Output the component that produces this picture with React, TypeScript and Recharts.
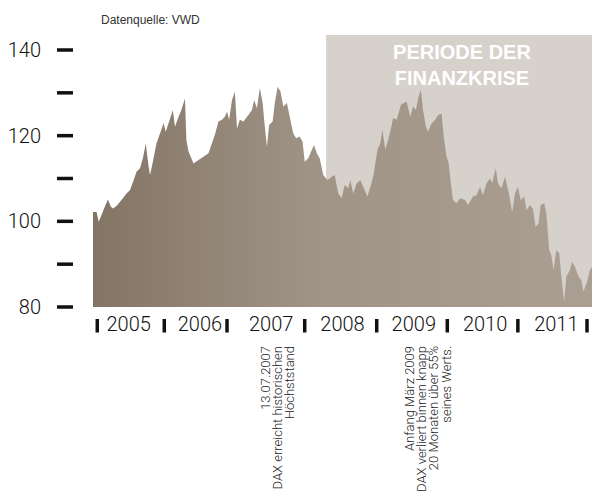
import React from "react";
import { AreaChart, Area, XAxis, YAxis, ReferenceArea } from "recharts";

// decimal-year dates and index values
const dates = [
  2005.0, 2005.05, 2005.08, 2005.12, 2005.17, 2005.21, 2005.25, 2005.28, 2005.33, 2005.4,
  2005.47, 2005.52, 2005.57, 2005.61, 2005.66, 2005.7, 2005.74, 2005.78, 2005.8, 2005.84,
  2005.89, 2005.94, 2005.99, 2006.02, 2006.06, 2006.12, 2006.15, 2006.2, 2006.24, 2006.29,
  2006.31, 2006.34, 2006.41, 2006.48, 2006.55, 2006.62, 2006.66, 2006.71, 2006.76, 2006.81,
  2006.85, 2006.88, 2006.91, 2006.95, 2006.99, 2007.02, 2007.06, 2007.11, 2007.18, 2007.23,
  2007.26, 2007.3, 2007.34, 2007.38, 2007.41, 2007.44, 2007.47, 2007.52, 2007.55, 2007.59,
  2007.63, 2007.67, 2007.72, 2007.76, 2007.81, 2007.85, 2007.9, 2007.94, 2007.97, 2008.02,
  2008.07, 2008.1, 2008.14, 2008.18, 2008.23, 2008.29, 2008.35, 2008.39, 2008.44, 2008.49,
  2008.53, 2008.58, 2008.61, 2008.65, 2008.7, 2008.75, 2008.79, 2008.85, 2008.9, 2008.94,
  2008.99, 2009.03, 2009.06, 2009.1, 2009.14, 2009.18, 2009.21, 2009.26, 2009.32, 2009.36,
  2009.4, 2009.45, 2009.49, 2009.53, 2009.56, 2009.6, 2009.63, 2009.67, 2009.7, 2009.75,
  2009.8, 2009.84, 2009.89, 2009.92, 2009.96, 2009.99, 2010.02, 2010.05, 2010.1, 2010.15,
  2010.22, 2010.26, 2010.33, 2010.38, 2010.43, 2010.47, 2010.52, 2010.57, 2010.6, 2010.65,
  2010.68, 2010.73, 2010.78, 2010.83, 2010.88, 2010.92, 2010.96, 2011.0, 2011.05, 2011.08,
  2011.13, 2011.17, 2011.21, 2011.25, 2011.28, 2011.33, 2011.36, 2011.4, 2011.43, 2011.46,
  2011.5, 2011.54, 2011.57, 2011.61, 2011.64, 2011.69, 2011.72, 2011.76, 2011.81, 2011.85,
  2011.88, 2011.93, 2011.97, 2012.0,
];
const values = [
  102.2, 102.2, 99.9, 101.5, 103.6, 105.1, 103.4, 103.0, 103.6, 105.0,
  106.5, 107.3, 109.6, 111.6, 112.4, 114.7, 118.2, 112.8, 110.8, 113.9,
  118.2, 120.5, 122.9, 120.9, 122.9, 126.0, 122.1, 124.4, 126.0, 128.7,
  119.0, 116.3, 113.5, 114.3, 115.1, 115.9, 117.8, 120.2, 123.3, 123.7,
  124.4, 125.6, 123.7, 128.3, 130.3, 121.7, 123.7, 123.3, 124.8, 126.0,
  128.3, 126.4, 131.1, 127.6, 122.1, 117.4, 122.5, 123.3, 127.6, 131.4,
  130.3, 126.8, 127.6, 124.4, 120.5, 119.4, 119.8, 118.6, 113.9, 114.7,
  116.7, 117.8, 115.9, 114.7, 110.8, 109.6, 110.4, 110.8, 106.5, 105.4,
  108.5, 107.7, 109.6, 106.5, 108.9, 109.6, 108.1, 105.8, 108.5, 111.2,
  116.7, 118.2, 121.3, 116.7, 119.0, 121.7, 124.1, 123.7, 127.2, 127.6,
  127.9, 124.4, 126.8, 126.0, 128.7, 130.7, 126.0, 122.1, 120.9, 122.9,
  123.7, 124.8, 125.2, 119.8, 115.1, 113.5, 108.9, 105.0, 104.2, 105.4,
  105.0, 103.8, 105.8, 106.1, 108.1, 106.1, 108.9, 110.0, 108.9, 112.4,
  108.9, 107.7, 110.4, 106.9, 102.2, 106.5, 108.1, 105.0, 105.8, 102.6,
  103.8, 103.0, 98.7, 99.5, 103.8, 104.2, 101.9, 93.3, 92.1, 88.6,
  93.3, 92.5, 87.1, 81.2, 87.1, 88.6, 90.6, 89.4, 87.1, 86.3,
  83.6, 85.9, 88.6, 89.4,
];

const yTicks = [80, 90, 100, 110, 120, 130, 140];
const yLabelled = [80, 100, 120, 140];
const yearLabels = ["2005", "2006", "2007", "2008", "2009", "2010", "2011"];
const yearLabelPos = [2005.5, 2006.5, 2007.5, 2008.5, 2009.5, 2010.5, 2011.5];
const yearBarPos = [2005.06, 2006.0, 2006.88, 2007.97, 2008.98, 2009.97, 2010.96, 2011.93];
const crisisStart = 2008.27;
const crisisEnd = 2012;
const crisisTop = 143.5;

const sourceText = "Datenquelle: VWD";
const crisisLines = ["PERIODE DER", "FINANZKRISE"];
const note1 = ["13.07.2007", "DAX erreicht historischen", "Höchststand"];
const note2 = ["Anfang März 2009", "DAX verliert binnen knapp", "20 Monaten über 55%", "seines Werts."];

const data = dates.map((t, i) => ({ t, v: values[i] }));

const LIGHT = "Roboto, 'Liberation Sans', Arial, sans-serif";
const SANS = "'Liberation Sans', Arial, Helvetica, sans-serif";

const YTick = (props: any) => {
  const { x, y, payload } = props;
  const v = payload.value;
  return (
    <g>
      <line x1={x - 36} x2={x - 20} y1={y} y2={y} stroke="#111" strokeWidth={3.5} />
      {yLabelled.includes(v) && (
        <text x={x - 52} y={y + 7} textAnchor="end" fontSize={20} fontFamily={LIGHT} fontWeight={300} fill="#111">
          {v}
        </text>
      )}
    </g>
  );
};

const LabelTick = (props: any) => {
  const { x, y, payload, index } = props;
  const li = yearLabelPos.findIndex((p) => Math.abs(p - payload.value) < 1e-6);
  return (
    <text x={x} y={y + 24} textAnchor="middle" fontSize={20} fontFamily={LIGHT} fontWeight={300} fill="#111">
      {yearLabels[li >= 0 ? li : index]}
    </text>
  );
};

const BarTick = (props: any) => {
  const { x, y } = props;
  return <rect x={x - 1.75} y={y + 11} width={3.5} height={13.5} fill="#111" />;
};

const W = 592;
const H = 498;

export default function App() {
  return (
    <div style={{ position: "relative", width: W, height: H, overflow: "hidden" }}>
      <style>{"html,body{margin:0;padding:0;overflow:hidden;}"}</style>
      <AreaChart width={W} height={H} data={data} margin={{ top: 50, right: 0, left: 0, bottom: 161 }}>
        <defs>
          <linearGradient id="areaGrad" x1="0" y1="0" x2="1" y2="0">
            <stop offset="0" stopColor="#837564" />
            <stop offset="0.45" stopColor="#a09487" />
            <stop offset="1" stopColor="#ab9f93" />
          </linearGradient>
        </defs>
        <ReferenceArea
          x1={crisisStart}
          x2={crisisEnd}
          y1={80}
          y2={crisisTop}
          ifOverflow="visible"
          fill="#d6d1cb"
          fillOpacity={1}
          stroke="none"
        />
        <XAxis
          dataKey="t"
          type="number"
          domain={[2005, 2012]}
          allowDataOverflow
          ticks={yearLabelPos}
          interval={0}
          tick={<LabelTick />}
          tickLine={false}
          axisLine={false}
          tickSize={0}
          tickMargin={0}
          height={1}
        />
        <XAxis
          xAxisId="bars"
          dataKey="t"
          type="number"
          domain={[2005, 2012]}
          allowDataOverflow
          ticks={yearBarPos}
          interval={0}
          tick={<BarTick />}
          tickLine={false}
          axisLine={false}
          tickSize={0}
          tickMargin={0}
          height={29}
        />
        <YAxis
          type="number"
          domain={[80, 140]}
          ticks={yTicks}
          interval={0}
          tick={<YTick />}
          tickLine={false}
          axisLine={false}
          tickSize={0}
          tickMargin={0}
          width={93}
        />
        <Area
          type="linear"
          dataKey="v"
          stroke="none"
          fill="url(#areaGrad)"
          fillOpacity={1}
          baseValue={80}
          isAnimationActive={false}
          dot={false}
          activeDot={false}
        />
      </AreaChart>
      <svg
        width={W}
        height={H}
        style={{ position: "absolute", left: 0, top: 0, pointerEvents: "none" }}
      >
        <text x={101} y={24} fontSize={12} fontFamily={SANS} fill="#333">
          {sourceText}
        </text>
        {crisisLines.map((l, i) => (
          <text
            key={l}
            x={462}
            y={59 + i * 25.7}
            textAnchor="middle"
            fontSize={20}
            fontWeight={700}
            fontFamily={SANS}
            fill="#ffffff"
          >
            {l}
          </text>
        ))}
        {note1.map((l, i) => (
          <text
            key={l}
            transform={`translate(${270 + i * 12.2},346) rotate(-90)`}
            textAnchor="end"
            fontSize={13}
            fontFamily={LIGHT}
            fontWeight={300}
            fill="#222"
          >
            {l}
          </text>
        ))}
        {note2.map((l, i) => (
          <text
            key={l}
            transform={`translate(${414 + i * 12.2},346) rotate(-90)`}
            textAnchor="end"
            fontSize={13}
            fontFamily={LIGHT}
            fontWeight={300}
            fill="#222"
          >
            {l}
          </text>
        ))}
      </svg>
    </div>
  );
}
